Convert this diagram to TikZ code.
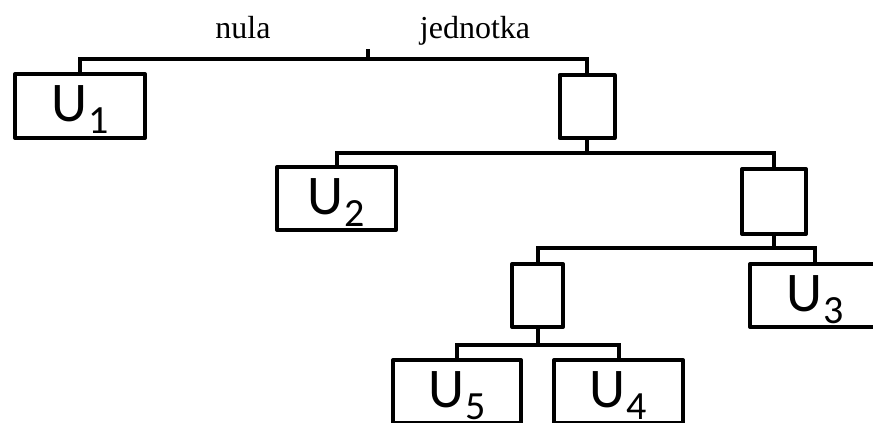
\documentclass[tikz,border=0pt]{standalone}
\usepackage{fontspec}
\setmainfont{Liberation Serif}
\newfontfamily\leaffont{Carlito}
\usetikzlibrary{positioning}
\newcommand{\leafname}[1]{U\hspace{1pt}\raisebox{-12pt}{\fontsize{40pt}{40pt}\selectfont #1}}
\tikzset{
	every node/.style = {font=\fontsize{32pt}{32pt}\selectfont},
	leaf/.style = {draw, line width=4pt, line join=round, inner sep=0pt,
		minimum width=130pt, minimum height=64pt, text depth=4pt,
		font=\leaffont\fontsize{56pt}{56pt}\selectfont},
	split/.style = {draw, line width=4pt, line join=round, inner sep=0pt,
		minimum height=63pt},
	branch/.style = {line width=4pt}
}

\begin{document}
\begin{tikzpicture}[x=1pt,y=-1pt]
		\useasboundingbox (0,0) rectangle (873,423);
		\clip (0,0) rectangle (873,423);

		% labels of the two first branches
		\node[anchor=base] (nula) at (243,38) {nula};
		\node[anchor=base] (jednotka) at (475,38) {jednotka};

		% boxes
		\node[leaf] (U1) at (80,106) {\leafname{1}};
		\node[split, minimum width=55pt] (A) at (587,106.5) {};
		\node[leaf, minimum width=119pt, minimum height=63pt] (U2) at (336.5,198.5) {\leafname{2}};
		\node[split, minimum width=64pt, minimum height=65pt] (B) at (774,201.5) {};
		\node[split, minimum width=51pt] (C) at (537.5,295.5) {};
		\node[leaf, minimum height=63pt] (U3) at (815,295.5) {\leafname{3}};
		\node[leaf, minimum width=128pt, minimum height=63pt] (U5) at (457,391.5) {\leafname{5}};
		\node[leaf, minimum width=129pt, minimum height=63pt] (U4) at (618.5,391.5) {\leafname{4}};

		% junctions
		\coordinate (root) at (368,49);
		\coordinate[below=10pt of root] (j0);
		\coordinate[below=13pt of A] (jA);
		\coordinate[below=12pt of B] (jB);
		\coordinate[below=16pt of C] (jC);

		% branches
		\draw[branch] (root) -- (j0);
		\draw[branch] (U1.north) |- (j0) -| (A.north);
		\draw[branch] (A.south) -- (jA);
		\draw[branch] (U2.north) |- (jA) -| (B.north);
		\draw[branch] (B.south) -- (jB);
		\draw[branch] (C.north) |- (jB) -| (U3.north);
		\draw[branch] (C.south) -- (jC);
		\draw[branch] (U5.north) |- (jC) -| (U4.north);
	\end{tikzpicture}
\end{document}
